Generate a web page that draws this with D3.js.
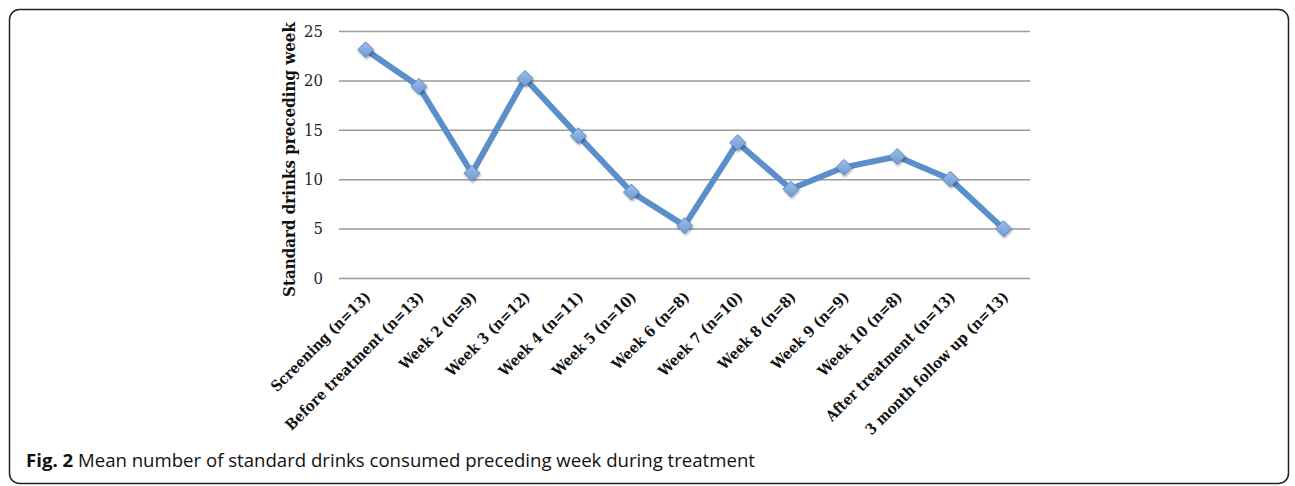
<!DOCTYPE html>
<html>
<head>
<meta charset="utf-8">
<script src="https://cdn.jsdelivr.net/npm/d3@7"></script>
<style>
  body { margin: 0; background: #fff; }
  svg { display: block; }
</style>
</head>
<body>
<svg id="chart" width="1295" height="486"></svg>
<script>
// data
const categories = [
  "Screening (n=13)", "Before treatment (n=13)", "Week 2 (n=9)", "Week 3 (n=12)",
  "Week 4 (n=11)", "Week 5 (n=10)", "Week 6 (n=8)", "Week 7 (n=10)",
  "Week 8 (n=8)", "Week 9 (n=9)", "Week 10 (n=8)", "After treatment (n=13)",
  "3 month follow up (n=13)"
];
const drinks = [23.1, 19.4, 10.6, 20.2, 14.4, 8.7, 5.3, 13.7, 9.0, 11.2, 12.3, 10.0, 5.0];
const yTicks = [0, 5, 10, 15, 20, 25];

const svg = d3.select("#chart");

// frame
svg.append("rect")
  .attr("x", 9.5).attr("y", 9.5)
  .attr("width", 1279).attr("height", 474)
  .attr("rx", 10).attr("ry", 10)
  .style("fill", "none")
  .style("stroke", "#222")
  .style("stroke-width", 1.5);

const margin = { left: 339, right: 265, top: 31, bottom: 208 };
const width = 1295 - margin.left - margin.right;
const height = 486 - margin.top - margin.bottom;

const chart = svg.append("g").attr("transform", `translate(${margin.left},${margin.top})`);

const x = d3.scaleBand().domain(categories).range([0, width]);
const y = d3.scaleLinear().domain([0, 25]).range([height, 0]);

const serif = "'DejaVu Serif Condensed', 'DejaVu Serif', serif";

// shadow for markers
const defs = svg.append("defs");
const shadow = defs.append("filter").attr("id", "shadow")
  .attr("x", "-50%").attr("y", "-50%").attr("width", "200%").attr("height", "200%");
shadow.append("feDropShadow")
  .attr("dx", 1).attr("dy", 1.5).attr("stdDeviation", 1.2)
  .attr("flood-color", "#000").attr("flood-opacity", 0.35);
const grad = defs.append("linearGradient").attr("id", "mk")
  .attr("x1", 0).attr("y1", 0).attr("x2", 0).attr("y2", 1);
grad.append("stop").attr("offset", "0%").attr("stop-color", "#9dbde6");
grad.append("stop").attr("offset", "100%").attr("stop-color", "#6f9bd3");

// gridlines
const yAxis = d3.axisLeft(y).tickValues(yTicks).tickSize(-width).tickPadding(16);
const yAxisG = chart.append("g").attr("class", "y axis").call(yAxis);
yAxisG.select(".domain").remove();
yAxisG.selectAll(".tick line")
  .style("stroke", "#9a9a9a")
  .style("stroke-width", 1.5);
yAxisG.selectAll(".tick text")
  .style("font-family", serif)
  .style("font-size", "16.5px")
  .style("fill", "#222");

// x axis labels
const xAxis = d3.axisBottom(x).tickSize(0).tickPadding(0);
const xAxisG = chart.append("g").attr("class", "x axis")
  .attr("transform", `translate(0,${height})`)
  .call(xAxis);
xAxisG.select(".domain").remove();
xAxisG.selectAll(".tick text")
  .attr("dy", 0)
  .attr("transform", "translate(6,20) rotate(-45)")
  .style("text-anchor", "end")
  .style("font-family", serif)
  .style("font-weight", "bold")
  .style("font-size", "15px")
  .style("fill", "#111");

// y label
chart.append("text")
  .attr("transform", "rotate(-90)")
  .attr("x", -128.5)
  .attr("y", -44)
  .style("text-anchor", "middle")
  .style("font-family", serif)
  .style("font-weight", "bold")
  .style("font-size", "16.8px")
  .style("fill", "#111")
  .text("Standard drinks preceding week");

// line
const line = d3.line()
  .x((d, i) => x(categories[i]) + x.bandwidth() / 2)
  .y(d => y(d));

chart.append("path")
  .datum(drinks)
  .attr("d", line)
  .style("fill", "none")
  .style("stroke", "#5b8fca")
  .style("stroke-width", 6)
  .style("stroke-linejoin", "round");

// markers
chart.selectAll(".marker")
  .data(drinks)
  .enter()
  .append("path")
  .attr("class", "marker")
  .attr("d", d3.symbol().type(d3.symbolDiamond2).size(160))
  .attr("transform", (d, i) => `translate(${x(categories[i]) + x.bandwidth() / 2},${y(d)})`)
  .attr("filter", "url(#shadow)")
  .style("fill", "url(#mk)")
  .style("stroke", "#5c8cc6")
  .style("stroke-width", 1);

// caption
const cap = svg.append("text")
  .attr("x", 26)
  .attr("y", 467)
  .style("font-family", "'Open Sans', sans-serif")
  .style("font-size", "18.6px")
  .style("fill", "#111");
cap.append("tspan").style("font-weight", "bold").text("Fig. 2");
cap.append("tspan").text(" Mean number of standard drinks consumed preceding week during treatment");
</script>
</body>
</html>
